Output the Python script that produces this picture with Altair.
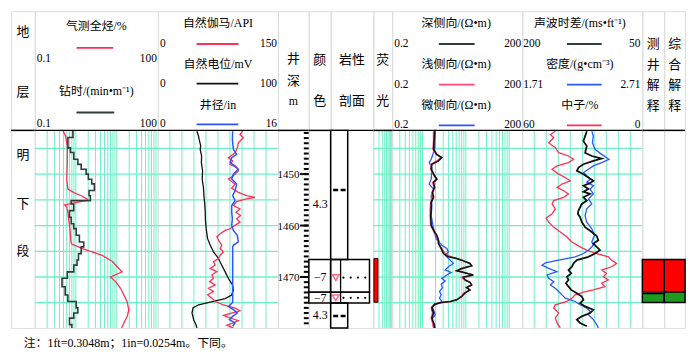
import altair as alt
import pandas as pd

# ---------------- data ----------------
# Track 1: gas total hydrocarbon (%) and drilling time (min/m), log 0.1-100
gas_depth = [1441.6, 1442.6, 1444.5, 1447.8, 1451.0, 1452.9, 1453.6, 1454.2, 1454.9, 1455.1,
             1456.0, 1456.4, 1457.4, 1459.3, 1460.6, 1463.2, 1463.6, 1464.5, 1465.8, 1467.0,
             1468.3, 1469.0, 1470.0, 1471.0, 1472.2, 1474.8, 1476.4, 1477.6, 1478.6, 1479.9]
gas_val = [0.49, 0.56, 0.62, 0.62, 0.60, 0.64, 0.90, 1.35, 1.95, 1.95,
           0.53, 0.60, 0.64, 0.68, 0.72, 0.76, 0.80, 1.45, 4.4, 7.8,
           11.0, 13.5, 7.0, 9.5, 12.3, 17.8, 19.5, 18.0, 15.5, 13.0]

dt_bounds = [1441.5, 1442.9, 1444.9, 1445.8, 1447.1, 1448.1, 1449.05, 1450.0, 1451.0, 1451.9,
             1453.2, 1454.2, 1455.15, 1455.8, 1457.1, 1458.4, 1459.65, 1460.6, 1461.9, 1463.2,
             1464.15, 1465.45, 1466.7, 1467.7, 1469.0, 1470.25, 1471.9, 1473.5, 1474.75, 1476.0,
             1477.0, 1478.0, 1479.25, 1479.9]
dt_val = [0.85, 0.64, 0.74, 0.89, 1.12, 1.35, 1.78, 2.02, 2.44, 2.83,
          2.10, 2.26, 0.77, 0.89, 0.70, 0.77, 0.89, 1.02, 1.22, 1.56,
          1.35, 1.16, 1.07, 0.89, 0.62, 0.46, 0.55, 0.64, 1.02, 1.12,
          0.89, 0.70, 0.80]

# Track 2: GR (API 0-150), SP (mV 0-100), CAL (in 0-16)
gr_depth = [1441.66, 1442.30, 1442.94, 1443.91, 1444.87, 1445.84, 1446.80, 1447.44, 1448.08, 1448.73,
            1449.37, 1450.33, 1450.98, 1451.94, 1452.78, 1453.55, 1454.19, 1454.51, 1454.83, 1455.35,
            1456.12, 1456.76, 1457.40, 1458.05, 1458.69, 1459.33, 1459.97, 1460.62, 1460.94, 1461.58,
            1462.22, 1463.19, 1463.83, 1464.47, 1465.12, 1465.76, 1466.40, 1467.04, 1467.69, 1468.33,
            1468.97, 1469.61, 1470.26, 1470.90, 1471.54, 1472.19, 1472.83, 1473.47, 1474.11, 1474.76,
            1475.40, 1476.04, 1476.56, 1477.00, 1477.46, 1477.97, 1478.48, 1478.93, 1479.38, 1479.90]
gr_val = [105.8, 102.5, 106.6, 100.4, 99.2, 96.3, 88.0, 93.4, 90.1, 98.3,
          100.4, 94.2, 88.0, 96.3, 92.1, 100.4, 110.7, 121.1, 110.7, 98.3,
          94.2, 102.5, 97.5, 103.3, 98.3, 102.5, 96.3, 90.1, 83.9, 77.7,
          73.6, 76.9, 79.8, 77.7, 81.8, 77.7, 75.6, 69.4, 71.5, 65.3,
          73.6, 67.4, 69.4, 64.5, 71.5, 63.2, 69.4, 62.0, 67.4, 71.5,
          81.8, 96.3, 102.5, 92.1, 81.8, 90.1, 100.4, 94.2, 86.0, 94.2]

sp_depth = [1441.66, 1442.6, 1443.3, 1444.5, 1445.2, 1446.5, 1447.8, 1449.4, 1451.0, 1452.6,
            1454.2, 1455.8, 1457.4, 1459.0, 1460.6, 1462.5, 1463.8, 1465.1, 1466.4, 1467.7,
            1469.0, 1470.3, 1471.5, 1472.5, 1473.5, 1474.2, 1474.9, 1475.4, 1476.0, 1477.0,
            1478.3, 1479.3, 1479.9]
sp_val = [32.5, 33.8, 34.4, 35.6, 35.2, 36.4, 36.2, 37.2, 36.9, 37.9,
          38.3, 39.0, 39.4, 39.6, 40.2, 41.3, 43.5, 46.3, 50.4, 53.2,
          56.0, 58.7, 62.0, 62.8, 61.4, 56.0, 43.5, 33.9, 29.2, 28.4,
          29.8, 31.7, 32.5]

cal_depth = [1441.66, 1443.26, 1445.19, 1446.16, 1446.80, 1447.76, 1448.41, 1449.05, 1450.01, 1450.98,
             1451.94, 1453.23, 1454.19, 1455.15, 1456.12, 1457.40, 1458.69, 1459.97, 1460.94, 1461.90,
             1463.19, 1463.83, 1464.15, 1474.95, 1475.72, 1476.36, 1477.00, 1477.65, 1478.29, 1478.93,
             1479.58]
cal_val = [9.96, 9.92, 10.05, 10.49, 9.83, 9.61, 10.27, 10.71, 10.05, 9.83,
           10.49, 10.27, 9.96, 10.27, 9.83, 9.83, 9.92, 9.83, 10.05, 10.58,
           10.71, 10.05, 9.96, 9.96, 9.39, 10.05, 10.58, 9.96, 9.52, 10.27,
           9.96]

# Track 3: resistivity (ohm.m), log 0.2-200
res_depth = [1441.66, 1443.26, 1445.19, 1446.16, 1446.80, 1447.44, 1448.08, 1449.05, 1450.33, 1450.98,
             1451.62, 1452.58, 1453.55, 1454.51, 1455.48, 1456.76, 1458.05, 1459.97, 1461.26, 1461.90,
             1462.87, 1463.51, 1464.47, 1465.44, 1466.08, 1466.40, 1466.72, 1467.37, 1467.81, 1468.33,
             1468.78, 1469.16, 1469.61, 1470.06, 1470.58, 1471.03, 1471.54, 1472.06, 1472.51, 1473.15,
             1473.79, 1474.43, 1474.76, 1474.95, 1475.27, 1476.04, 1477.00, 1477.97, 1478.93, 1479.90]
lld_val = [1.90, 1.86, 1.80, 2.15, 2.79, 2.34, 1.65, 1.59, 1.90, 2.15,
           1.80, 1.90, 1.71, 1.80, 1.59, 1.59, 1.54, 1.59, 1.90, 2.15,
           2.34, 2.34, 2.70, 3.05, 3.97, 6.16, 8.02, 12.4, 13.6, 8.02,
           6.16, 9.55, 14.8, 8.75, 9.55, 12.4, 13.6, 10.4, 12.4, 9.55,
           8.02, 6.16, 4.33, 2.79, 1.90, 1.65, 1.80, 1.65, 1.80, 1.90]
lls_val = [1.80, 1.80, 1.75, 2.07, 2.70, 2.15, 1.59, 1.54, 1.86, 2.07,
           1.71, 1.86, 1.65, 1.71, 1.54, 1.51, 1.51, 1.54, 1.86, 2.07,
           2.34, 2.34, 2.79, 3.33, 4.57, 6.16, 8.02, 12.4, 13.6, 8.75,
           6.16, 9.55, 14.8, 8.02, 9.55, 12.4, 13.6, 10.4, 12.4, 8.75,
           8.02, 6.16, 4.57, 2.70, 1.86, 1.59, 1.71, 1.59, 1.71, 1.80]
msfl_depth = [1441.66, 1445.19, 1447.12, 1447.76, 1448.73, 1450.98, 1451.94, 1452.90, 1454.19, 1456.12,
              1458.05, 1460.62, 1462.54, 1463.83, 1464.47, 1465.12, 1465.76, 1466.72, 1467.37, 1468.01,
              1468.65, 1469.10, 1469.61, 1470.26, 1470.77, 1471.41, 1472.06, 1472.83, 1473.47, 1474.11,
              1474.76, 1475.08, 1475.72, 1476.36, 1477.33, 1478.29, 1479.25, 1479.90]
msfl_val = [1.97, 1.90, 1.59, 1.43, 1.65, 1.59, 1.43, 1.80, 1.59, 1.65,
            1.59, 1.80, 2.07, 2.79, 3.64, 3.97, 3.33, 4.33, 5.16, 3.97,
            3.33, 4.57, 3.64, 2.79, 3.33, 2.70, 2.89, 2.47, 2.70, 2.47,
            2.79, 2.34, 1.65, 1.80, 1.97, 1.65, 1.90, 1.97]

# Track 4: AC (200-50), DEN (1.71-2.71), CNL (60-0)
ac_depth = [1441.66, 1442.62, 1443.59, 1444.55, 1445.84, 1446.48, 1446.99, 1447.44, 1448.08, 1448.73,
            1449.37, 1450.01, 1450.66, 1451.30, 1451.75, 1452.26, 1452.90, 1453.42, 1453.87, 1454.51,
            1455.15, 1455.80, 1456.44, 1457.08, 1457.72, 1458.37, 1459.33, 1460.30, 1461.26, 1462.03,
            1462.87, 1463.51, 1464.15, 1464.79, 1465.44, 1466.08, 1466.72, 1467.37, 1468.01, 1468.65,
            1469.29, 1469.94, 1470.58, 1471.22, 1471.86, 1472.51, 1473.15, 1473.79, 1474.43, 1475.08,
            1475.72, 1476.36, 1477.00, 1477.65, 1478.29, 1478.93, 1479.58]
ac_val = [119.4, 121.5, 123.6, 119.4, 121.5, 113.2, 100.8, 111.2, 123.6, 129.8,
          131.8, 123.6, 117.4, 111.2, 115.3, 123.6, 117.4, 123.6, 115.3, 123.6,
          119.4, 125.6, 127.7, 129.8, 130.6, 127.7, 125.6, 121.5, 113.2, 107.0,
          105.0, 111.2, 107.0, 102.9, 109.1, 117.4, 131.8, 136.0, 138.0, 142.2,
          138.8, 144.2, 142.2, 145.5, 142.2, 138.8, 131.8, 125.6, 123.6, 127.7,
          121.5, 111.2, 115.3, 125.6, 131.8, 127.7, 119.4]
den_depth = [1441.66, 1442.62, 1443.91, 1445.19, 1446.16, 1447.12, 1447.76, 1448.41, 1449.05, 1449.69,
             1450.33, 1450.98, 1451.62, 1452.26, 1452.90, 1453.87, 1454.83, 1455.80, 1456.76, 1458.05,
             1459.33, 1460.62, 1461.90, 1463.19, 1463.83, 1464.79, 1465.44, 1466.08, 1466.72, 1467.24,
             1467.69, 1468.33, 1468.97, 1469.61, 1470.26, 1470.90, 1471.54, 1472.19, 1472.83, 1473.47,
             1474.11, 1474.76, 1475.40, 1476.04, 1476.68, 1477.33, 1478.29, 1479.25, 1479.90]
den_val = [2.289, 2.302, 2.294, 2.316, 2.371, 2.432, 2.371, 2.302, 2.261, 2.220,
           2.247, 2.275, 2.247, 2.302, 2.275, 2.302, 2.261, 2.289, 2.247, 2.233,
           2.247, 2.289, 2.311, 2.289, 2.302, 2.261, 2.220, 2.151, 2.013, 1.903,
           1.875, 1.930, 1.999, 1.917, 1.930, 1.972, 1.944, 1.985, 2.013, 2.041,
           2.068, 2.151, 2.192, 2.247, 2.275, 2.261, 2.302, 2.330, 2.344]
cnl_depth = [1441.66, 1442.30, 1442.94, 1443.91, 1444.87, 1445.84, 1446.48, 1447.12, 1447.76, 1448.41,
             1449.05, 1450.01, 1450.66, 1451.30, 1451.94, 1452.58, 1453.23, 1453.87, 1454.51, 1455.15,
             1455.80, 1456.76, 1457.72, 1458.56, 1459.33, 1460.30, 1461.26, 1462.22, 1463.19, 1464.15,
             1464.79, 1465.44, 1466.08, 1466.72, 1467.37, 1468.01, 1468.65, 1469.29, 1469.94, 1470.58,
             1471.22, 1471.86, 1472.51, 1472.96, 1473.47, 1474.11, 1474.76, 1475.40, 1476.04, 1477.00,
             1477.97, 1478.93, 1479.90]
cnl_val = [43.5, 45.9, 44.3, 46.8, 43.5, 41.8, 36.9, 34.4, 36.9, 42.6,
           45.1, 41.8, 38.5, 36.0, 40.2, 42.6, 39.3, 36.9, 39.3, 44.3,
           45.1, 43.5, 45.1, 48.1, 46.8, 44.3, 41.0, 37.7, 35.2, 31.1,
           27.8, 22.8, 17.0, 15.4, 12.9, 15.4, 20.3, 17.9, 19.5, 17.0,
           20.3, 18.7, 24.5, 29.4, 33.6, 35.2, 37.7, 43.5, 44.3, 41.8,
           43.5, 42.6, 41.0]

# depth ticks / grids
depth_minor = list(range(1442, 1480))
depth_major = [1450, 1460, 1470]
grid_depths = [1445, 1450, 1455, 1460, 1465, 1470, 1475]
log_grid_t1 = [0.2, 0.3, 0.4, 0.5, 0.6, 0.7, 0.8, 0.9, 1, 2, 3, 4, 5, 6, 7, 8, 9,
               10, 20, 30, 40, 50, 60, 70, 80, 90]
log_grid_t3 = [0.3, 0.4, 0.5, 0.6, 0.7, 0.8, 0.9, 1, 2, 3, 4, 5, 6, 7, 8, 9,
               10, 20, 30, 40, 50, 60, 70, 80, 90, 100]
lin_grid = [1, 2, 3, 4, 5, 6, 7, 8, 9]
fluo_grid = [2, 3, 4, 5, 6, 7, 8, 9]

# lithology / interpretation
lith_top = [1441.5, 1466.58, 1472.94, 1475.06]
lith_bot = [1466.58, 1472.94, 1475.06, 1479.9]
lith_width = [0.40, 0.91, 0.91, 0.40]
sand_top = [1466.58, 1472.94]
sand_bot = [1472.94, 1475.06]
mud_symbol_depth = [1453.1, 1477.6]
oil_depth = [1470.1, 1474.05]
color_code_depth = [1455.8, 1470.1, 1474.05, 1477.3]
color_code = ["4.3", "−7", "−7", "4.3"]
fluo_top = [1466.4]
fluo_bot = [1474.9]
interp1_top = [1466.58, 1473.2]
interp1_bot = [1472.94, 1474.95]
interp2_top = [1466.58, 1472.94]
interp2_bot = [1472.94, 1474.95]
interp_kind = ["油层", "油水同层"]
strata = ["明", "下", "段"]
strata_depth = [1446.3, 1455.8, 1465.0]

# ---------------- styling ----------------
D0, D1 = 1441.5, 1479.9
HH = 120          # header height
HT = 319          # total column height
FONT = "Liberation Serif, Noto Sans CJK SC"
GRID = "#6EF0C6"
RED = "#FF2F55"
PINK = "#FF4A78"
BLUE = "#2F55FF"
BLACK = "#111111"
DARK = "#2E3C3C"

ysc = alt.Scale(domain=[D0, D1], range=[HH, HT], nice=False, zero=False)
one = pd.DataFrame({"k": [0]})


def Y(field="d"):
    return alt.Y(f"{field}:Q", scale=ysc, axis=None)


def label(text, x, y, align="center", size=12, color="black"):
    return alt.Chart(one).mark_text(text=text, align=align, baseline="middle", fontSize=size,
                                    font=FONT, color=color).encode(x=alt.value(x), y=alt.value(y))


def sample(x1, x2, y, color, width=1.8):
    return alt.Chart(one).mark_rule(color=color, strokeWidth=width).encode(
        x=alt.value(x1), x2=alt.value(x2), y=alt.value(y))


def separator(w):
    return alt.Chart(one).mark_rule(color="black", strokeWidth=1.5).encode(
        x=alt.value(0), x2=alt.value(w), y=alt.value(HH))


def column(w, items, independent=False):
    ch = alt.layer(*items, separator(w))
    if independent:
        ch = ch.resolve_scale(x="independent")
    return ch.properties(width=w, height=HT)


def curve(depths, values, scale, color, width=1.3):
    df = pd.DataFrame({"d": depths, "v": values, "i": list(range(len(depths)))})
    return alt.Chart(df).mark_line(color=color, strokeWidth=width, clip=True).encode(
        x=alt.X("v:Q", scale=scale, axis=None), y=Y(), order=alt.Order("i:Q"))


def vgrid(values, scale):
    return alt.Chart(pd.DataFrame({"v": values})).mark_rule(color=GRID, strokeWidth=1).encode(
        x=alt.X("v:Q", scale=scale, axis=None), y=alt.value(HH), y2=alt.value(HT))


def hgrid():
    return alt.Chart(pd.DataFrame({"d": grid_depths})).mark_rule(color=GRID, strokeWidth=1.3).encode(y=Y())


W = dict(strat=24, t1=124, t2=121, dep=31, col=22, lith=43, fluo=19, t3=131, t4=121, i1=22, i2=21)

# 地层
c_strat = column(W["strat"], [
    label("地", 12, 21, size=13), label("层", 12, 81, size=13),
    alt.Chart(pd.DataFrame({"d": strata_depth, "s": strata})).mark_text(
        fontSize=13, font=FONT, baseline="middle").encode(y=Y(), x=alt.value(12), text="s:N"),
])

# Track 1
s_t1 = alt.Scale(type="log", domain=[0.1, 100], nice=False)
dt_d, dt_v = [], []
for k, v in enumerate(dt_val):
    dt_d += [dt_bounds[k], dt_bounds[k + 1]]
    dt_v += [v, v]
c_t1 = column(W["t1"], [
    vgrid(log_grid_t1, s_t1), hgrid(),
    curve(gas_depth, gas_val, s_t1, RED, 1.3),
    curve(dt_d, dt_v, s_t1, DARK, 1.6),
    label("气测全烃/%", 62, 15), sample(42, 79, 37, RED),
    label("0.1", 2, 48, "left", 11.5), label("100", 123, 48, "right", 11.5),
    label("钻时/(min•m⁻¹)", 62, 80), sample(42, 80, 102, DARK),
    label("0.1", 2, 114, "left", 11.5), label("100", 123, 114, "right", 11.5),
])

# Track 2
s_lin = alt.Scale(domain=[0, 10], nice=False, zero=False)
s_gr = alt.Scale(domain=[0, 150], nice=False, zero=False)
s_sp = alt.Scale(domain=[0, 100], nice=False, zero=False)
s_cal = alt.Scale(domain=[0, 16], nice=False, zero=False)
c_t2 = column(W["t2"], [
    vgrid(lin_grid, s_lin), hgrid(),
    curve(sp_depth, sp_val, s_sp, BLACK, 1.3),
    curve(gr_depth, gr_val, s_gr, RED, 1.3),
    curve(cal_depth, cal_val, s_cal, BLUE, 1.5),
    label("自然伽马/API", 60.5, 12), label("0", 2, 33, "left", 11.5), sample(39, 81, 33, RED),
    label("150", 120, 33, "right", 11.5),
    label("自然电位/mV", 60.5, 53), label("0", 2, 73, "left", 11.5), sample(39, 81, 73, BLACK),
    label("100", 120, 73, "right", 11.5),
    label("井径/in", 60.5, 94), label("0", 2, 114, "left", 11.5), sample(39, 81, 114, BLUE),
    label("16", 120, 114, "right", 11.5),
], independent=True)

# 井深
c_dep = column(W["dep"], [
    label("井", 15.5, 48, size=13), label("深", 15.5, 70, size=13), label("m", 15.5, 90, size=12),
    alt.Chart(pd.DataFrame({"d": depth_minor})).mark_rule(color="black", strokeWidth=2).encode(
        y=Y(), x=alt.value(26), x2=alt.value(31)),
    alt.Chart(pd.DataFrame({"d": depth_major})).mark_rule(color="black", strokeWidth=2).encode(
        y=Y(), x=alt.value(22), x2=alt.value(31)),
    alt.Chart(pd.DataFrame({"d": depth_major, "t": [str(v) for v in depth_major]})).mark_text(
        align="right", baseline="middle", fontSize=11, font=FONT, dy=1).encode(
        y=Y(), x=alt.value(21.5), text="t:N"),
])

# 颜色
c_col = column(W["col"], [
    label("颜", 11, 49, size=13), label("色", 11, 90, size=13),
    alt.Chart(pd.DataFrame({"t": sand_top, "b": sand_bot})).mark_rect(
        fill="white", fillOpacity=0, stroke="black", strokeWidth=1.5).encode(
        y=Y("t"), y2="b:Q", x=alt.value(0), x2=alt.value(W["col"])),
    alt.Chart(pd.DataFrame({"d": color_code_depth, "c": color_code})).mark_text(
        fontSize=12, font=FONT, baseline="middle").encode(y=Y(), x=alt.value(11.5), text="c:N"),
])

# 岩性剖面
s01 = alt.Scale(domain=[0, 1], nice=False, zero=False)
lith_df = pd.DataFrame({"t": lith_top, "b": lith_bot, "w": lith_width, "z": [0] * len(lith_top)})
dots_df = pd.DataFrame([{"d": d, "x": x} for d in oil_depth for x in [0.30, 0.47, 0.64, 0.81]])
c_lith = column(W["lith"], [
    label("岩性", 21.5, 49, size=13), label("剖面", 21.5, 90, size=13),
    alt.Chart(lith_df).mark_rect(fill="white", fillOpacity=0, stroke="black", strokeWidth=1.5).encode(
        y=Y("t"), y2="b:Q", x=alt.X("z:Q", scale=s01, axis=None), x2="w:Q"),
    alt.Chart(pd.DataFrame({"t": sand_top, "b": sand_bot, "x": [0.233, 0.233]})).mark_rule(
        color="black", strokeWidth=1.3).encode(y=Y("t"), y2="b:Q", x=alt.X("x:Q", scale=s01, axis=None)),
    alt.Chart(pd.DataFrame({"d": mud_symbol_depth, "a": [0.06, 0.06], "e": [0.35, 0.35]})).mark_rule(
        color="black", strokeWidth=2.5, strokeDash=[5, 2.5]).encode(
        y=Y(), x=alt.X("a:Q", scale=s01, axis=None), x2="e:Q"),
    alt.Chart(pd.DataFrame({"d": oil_depth, "x": [0.12, 0.12]})).mark_point(
        shape="triangle-down", filled=False, color=RED, size=45, strokeWidth=1.5).encode(
        y=Y(), x=alt.X("x:Q", scale=s01, axis=None)),
    alt.Chart(dots_df).mark_circle(size=5, color="black", opacity=1).encode(
        y=Y(), x=alt.X("x:Q", scale=s01, axis=None)),
])

# 荧光
s_fl = alt.Scale(type="log", domain=[1, 10], nice=False)
c_fluo = column(W["fluo"], [
    vgrid(fluo_grid, s_fl), hgrid(),
    alt.Chart(pd.DataFrame({"t": fluo_top, "b": fluo_bot, "a": [1.07], "e": [1.75]})).mark_rect(
        color="#FF0000", stroke="#330000", strokeWidth=1).encode(
        y=Y("t"), y2="b:Q", x=alt.X("a:Q", scale=s_fl, axis=None), x2="e:Q"),
    label("荧", 9.5, 49, size=13), label("光", 9.5, 90, size=13),
])

# Track 3
s_res = alt.Scale(type="log", domain=[0.2, 200], nice=False)
c_t3 = column(W["t3"], [
    vgrid(log_grid_t3, s_res), hgrid(),
    curve(msfl_depth, msfl_val, s_res, BLUE, 1.3),
    curve(res_depth, lls_val, s_res, PINK, 1.5),
    curve(res_depth, lld_val, s_res, BLACK, 1.6),
    label("深侧向/(Ω•m)", 64.5, 12), label("0.2", 2, 33, "left", 11.5), sample(47, 83, 33, DARK),
    label("200", 130, 33, "right", 11.5),
    label("浅侧向/(Ω•m)", 64.5, 53), label("0.2", 2, 74, "left", 11.5), sample(47, 83, 74, PINK),
    label("200", 130, 74, "right", 11.5),
    label("微侧向/(Ω•m)", 64.5, 94), label("0.2", 2, 115, "left", 11.5), sample(47, 83, 115, BLUE),
    label("200", 130, 115, "right", 11.5),
])

# Track 4
s_ac = alt.Scale(domain=[200, 50], nice=False, zero=False)
s_den = alt.Scale(domain=[1.71, 2.71], nice=False, zero=False)
s_cnl = alt.Scale(domain=[60, 0], nice=False, zero=False)
c_t4 = column(W["t4"], [
    vgrid(lin_grid, s_lin), hgrid(),
    curve(cnl_depth, cnl_val, s_cnl, RED, 1.3),
    curve(den_depth, den_val, s_den, BLUE, 1.3),
    curve(ac_depth, ac_val, s_ac, BLACK, 1.8),
    label("声波时差/(ms•ft⁻¹)", 58, 12), label("200", 1, 33, "left", 11.5), sample(45, 80, 33, DARK),
    label("50", 119, 33, "right", 11.5),
    label("密度/(g•cm⁻³)", 58, 53), label("1.71", 1, 74, "left", 11.5), sample(45, 80, 74, BLUE),
    label("2.71", 119, 74, "right", 11.5),
    label("中子/%", 58, 94), label("60", 1, 115, "left", 11.5), sample(45, 80, 115, RED),
    label("0", 119, 115, "right", 11.5),
], independent=True)

# 测井解释 / 综合解释
kind_color = alt.Color("k:N", scale=alt.Scale(domain=interp_kind, range=["#FF0000", "#1E9A1E"]), legend=None)


def interp(w, tops, bots, chars):
    items = [label(c, w / 2, y, size=13) for c, y in zip(chars, [33, 54, 74, 95])]
    items.append(alt.Chart(pd.DataFrame({"t": tops, "b": bots, "k": interp_kind})).mark_rect(
        stroke="black", strokeWidth=1.5, opacity=1).encode(
        y=Y("t"), y2="b:Q", x=alt.value(0), x2=alt.value(w), color=kind_color))
    return column(w, items)


c_i1 = interp(W["i1"], interp1_top, interp1_bot, ["测", "井", "解", "释"])
c_i2 = interp(W["i2"], interp2_top, interp2_bot, ["综", "合", "解", "释"])

cols = [c_strat, c_t1, c_t2, c_dep, c_col, c_lith, c_fluo, c_t3, c_t4, c_i1, c_i2]

chart = alt.hconcat(*cols, spacing=0, bounds="flush").properties(
    padding={"left": 1, "top": 1, "right": 5, "bottom": 5},
    title=alt.TitleParams("注：1ft=0.3048m；1in=0.0254m。下同。", orient="bottom", anchor="start",
                          fontSize=12, font=FONT, fontWeight="normal", dx=14, offset=9),
).configure_view(stroke="black", strokeWidth=1.5).configure(background="white")

chart.save("out.html", embed_options={"renderer": "svg", "actions": False})
